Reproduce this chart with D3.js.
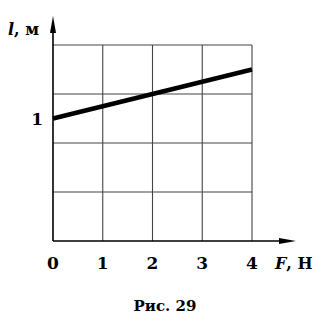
<!DOCTYPE html>
<html><head><meta charset="utf-8">
<script src="https://cdn.jsdelivr.net/npm/d3@7"></script>
<style>body{margin:0;background:#fff}svg{display:block}</style>
</head><body>
<svg id="c" width="329" height="322"></svg>
<script>
const xTicks = [0, 1, 2, 3, 4];
const yGrid = [0.4, 0.8, 1.2, 1.6];
const yTickLabels = [1];
const forceN = [0, 4];
const lengthM = [1.0, 1.4];

const svg = d3.select("#c");
const x = d3.scaleLinear().domain([0, 4]).range([53, 252]);
const y = d3.scaleLinear().domain([0, 1.6]).range([241, 45]);
const font = "'DejaVu Serif', 'Liberation Serif', serif";

// vertical grid
svg.selectAll("line.vg").data(xTicks.slice(1)).join("line")
  .attr("x1", d => x(d)).attr("x2", d => x(d))
  .attr("y1", y(0)).attr("y2", y(1.6))
  .attr("stroke", "#444").attr("stroke-width", 1.1);
// horizontal grid
svg.selectAll("line.hg").data(yGrid).join("line")
  .attr("x1", x(0)).attr("x2", x(4))
  .attr("y1", d => y(d)).attr("y2", d => y(d))
  .attr("stroke", "#444").attr("stroke-width", 1.1);

// axes
svg.append("line").attr("x1", x(0)).attr("x2", 288).attr("y1", y(0)).attr("y2", y(0))
  .attr("stroke", "#000").attr("stroke-width", 1.6);
svg.append("path").attr("d", `M296,${y(0)} L279,${y(0)-3} L279,${y(0)+3} Z`).attr("fill", "#000");
svg.append("line").attr("x1", x(0)).attr("x2", x(0)).attr("y1", y(0)).attr("y2", 24)
  .attr("stroke", "#000").attr("stroke-width", 1.6);
svg.append("path").attr("d", `M${x(0)},16 L${x(0)-3},33 L${x(0)+3},33 Z`).attr("fill", "#000");

// data line
const pts = forceN.map((f, i) => [f, lengthM[i]]);
svg.append("path").datum(pts)
  .attr("d", d3.line().x(d => x(d[0])).y(d => y(d[1])))
  .attr("stroke", "#000").attr("stroke-width", 4.5).attr("fill", "none");

// tick labels
svg.selectAll("text.xt").data(xTicks).join("text")
  .attr("x", d => x(d)).attr("y", 269)
  .attr("text-anchor", "middle").attr("font-family", font).attr("font-weight", "bold")
  .attr("font-size", 17).text(d => d);
svg.selectAll("text.yt").data(yTickLabels).join("text")
  .attr("x", 43).attr("y", y(1) + 6)
  .attr("text-anchor", "end").attr("font-family", font).attr("font-weight", "bold")
  .attr("font-size", 17).text(d => d);

// axis labels
const xl = svg.append("text").attr("x", 275).attr("y", 269)
  .attr("font-family", font).attr("font-weight", "bold").attr("font-size", 16);
xl.append("tspan").attr("font-style", "italic").text("F");
xl.append("tspan").text(", Н");
const yl = svg.append("text").attr("x", 8).attr("y", 35)
  .attr("font-family", font).attr("font-weight", "bold").attr("font-size", 16);
yl.append("tspan").attr("font-style", "italic").text("l");
yl.append("tspan").text(", м");

// caption
svg.append("text").attr("x", 165).attr("y", 311).attr("text-anchor", "middle")
  .attr("font-family", font).attr("font-weight", "bold").attr("font-size", 15)
  .text("Рис. 29");
</script>
</body></html>
